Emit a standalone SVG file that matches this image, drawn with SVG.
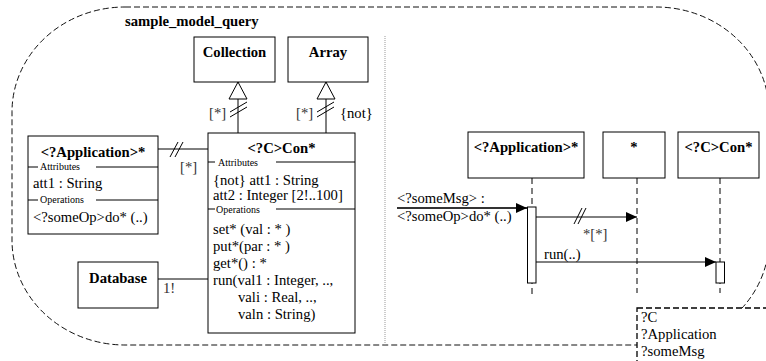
<svg xmlns="http://www.w3.org/2000/svg" width="766" height="361" viewBox="0 0 766 361">
<style>
text{font-family:"Liberation Serif","Times New Roman",serif;font-size:14.67px;fill:#000}
.b{font-weight:bold}
.c{text-anchor:middle}
.s{font-size:10px}
.m{fill:#333}
.box{fill:#fff;stroke:#000;stroke-width:1}
.ln{stroke:#000;stroke-width:1;fill:none}
.dash{stroke:#111;stroke-width:1;fill:none;stroke-dasharray:6,3}
.life{stroke:#000;stroke-width:1;fill:none;stroke-dasharray:6,4}
</style>
<defs>
<marker id="gen" viewBox="-1 -1 19 20" refX="17" refY="9" markerWidth="19" markerHeight="20" markerUnits="userSpaceOnUse" orient="auto">
<path d="M0,0 L17,9 L0,18 z" fill="#fff" stroke="#000" stroke-width="1"/>
</marker>
<marker id="fa" viewBox="0 0 11 10" refX="11" refY="5" markerWidth="11" markerHeight="10" markerUnits="userSpaceOnUse" orient="auto">
<path d="M0,0 L11,5 L0,10 z" fill="#000"/>
</marker>
</defs>
<rect id="boundary" x="12" y="7" width="757" height="338" rx="113" ry="105" class="dash"/>
<text class="b" x="125" y="26">sample_model_query</text>
<line id="separator" x1="385" y1="36" x2="385" y2="346" stroke="#999" stroke-width="1" stroke-dasharray="1,1"/>

<g id="connectors">
<line class="ln" x1="238" y1="133" x2="238" y2="82" marker-end="url(#gen)"/>
<line class="ln" x1="230" y1="112" x2="247" y2="102"/>
<line class="ln" x1="230" y1="117" x2="247" y2="107"/>
<text class="m" x="209" y="118">[*]</text>
<line class="ln" x1="326" y1="133" x2="326" y2="82" marker-end="url(#gen)"/>
<line class="ln" x1="317" y1="112" x2="334" y2="102"/>
<line class="ln" x1="317" y1="117" x2="334" y2="107"/>
<text class="m" x="296" y="118">[*]</text>
<text x="340" y="118">{not}</text>
<line class="ln" x1="158" y1="149" x2="208" y2="149"/>
<line class="ln" x1="170" y1="157" x2="178" y2="142"/>
<line class="ln" x1="175" y1="157" x2="183" y2="142"/>
<text class="m" x="180" y="172">[*]</text>
<line class="ln" x1="158" y1="279" x2="208" y2="279"/>
<text class="m" x="163" y="293">1!</text>
<line x1="296" y1="228" x2="314" y2="236" stroke="#000" stroke-width="1" stroke-dasharray="3,2"/>
<line x1="296" y1="249" x2="314" y2="238" stroke="#000" stroke-width="1" stroke-dasharray="3,2"/>
<text x="313" y="242">{xor}</text>
<line class="life" x1="532" y1="178" x2="532" y2="295"/>
<line class="life" x1="637" y1="178" x2="637" y2="293"/>
<line class="life" x1="720" y1="178" x2="720" y2="293"/>
<line x1="397" y1="208" x2="527" y2="208" stroke="#333" stroke-width="2" marker-end="url(#fa)"/>
<text x="397" y="203">&lt;?someMsg&gt; :</text>
<text x="397" y="221">&lt;?someOp&gt;do* (..)</text>
<line class="ln" x1="536" y1="217" x2="637" y2="217" marker-end="url(#fa)"/>
<line class="ln" x1="574" y1="224" x2="582" y2="208"/>
<line class="ln" x1="578" y1="224" x2="586" y2="208"/>
<text class="m" x="583" y="239">*[*]</text>
<line class="ln" x1="536" y1="262" x2="716" y2="262" marker-end="url(#fa)"/>
<text x="544" y="259">run(..)</text>
</g>

<g id="Collection">
<rect class="box" x="194" y="37" width="81" height="45"/>
<text class="b c" x="234.5" y="57">Collection</text>
</g>
<g id="Array">
<rect class="box" x="288" y="37" width="80" height="45"/>
<text class="b c" x="328" y="57">Array</text>
</g>
<g id="Application">
<rect class="box" x="28" y="136" width="130" height="98"/>
<text class="b c" x="93" y="157">&lt;?Application&gt;*</text>
<line class="ln" x1="28" y1="167" x2="38" y2="167"/>
<text class="s" x="40" y="170">Attributes</text>
<line class="ln" x1="96" y1="167" x2="158" y2="167"/>
<text x="33" y="188">att1 : String</text>
<line class="ln" x1="28" y1="200" x2="38" y2="200"/>
<text class="s" x="40" y="203">Operations</text>
<line class="ln" x1="96" y1="200" x2="158" y2="200"/>
<text x="33" y="222">&lt;?someOp&gt;do* (..)</text>
</g>
<g id="Con">
<rect class="box" x="208" y="133" width="147" height="200"/>
<text class="b c" x="281.5" y="153">&lt;?C&gt;Con*</text>
<line class="ln" x1="208" y1="162" x2="215" y2="162"/>
<text class="s" x="218" y="165.5">Attributes</text>
<line class="ln" x1="276" y1="162" x2="355" y2="162"/>
<text x="213" y="185">{not} att1 : String</text>
<text x="213" y="200">att2 : Integer [2!..100]</text>
<line class="ln" x1="208" y1="209" x2="215" y2="209"/>
<text class="s" x="216" y="212.5">Operations</text>
<line class="ln" x1="276" y1="209" x2="355" y2="209"/>
<text x="213" y="234">set* (val : * )</text>
<text x="213" y="251">put*(par : * )</text>
<text x="213" y="268">get*() : *</text>
<text x="213" y="285">run(val1 : Integer, ..,</text>
<text x="238" y="302">vali : Real, ..,</text>
<text x="238" y="319">valn : String)</text>
</g>
<g id="Database">
<rect class="box" x="78" y="262" width="80" height="46"/>
<text class="b c" x="118" y="283">Database</text>
</g>
<g id="seqApplication">
<rect class="box" x="468" y="132" width="116" height="46"/>
<text class="b c" x="526" y="152">&lt;?Application&gt;*</text>
<rect class="box" x="527.5" y="207" width="8.5" height="76"/>
</g>
<g id="seqAny">
<rect class="box" x="603" y="132" width="62" height="46"/>
<text class="b c" x="634" y="152">*</text>
</g>
<g id="seqCon">
<rect class="box" x="678" y="132" width="81" height="46"/>
<text class="b c" x="718.5" y="152">&lt;?C&gt;Con*</text>
<rect class="box" x="716" y="262" width="8.5" height="21"/>
</g>
<g id="variables">
<rect x="637" y="308" width="140" height="60" fill="#fff" stroke="#000" stroke-width="1.3" stroke-dasharray="6,3"/>
<text x="641" y="322">?C</text>
<text x="641" y="339">?Application</text>
<text x="641" y="356">?someMsg</text>
</g>
</svg>
